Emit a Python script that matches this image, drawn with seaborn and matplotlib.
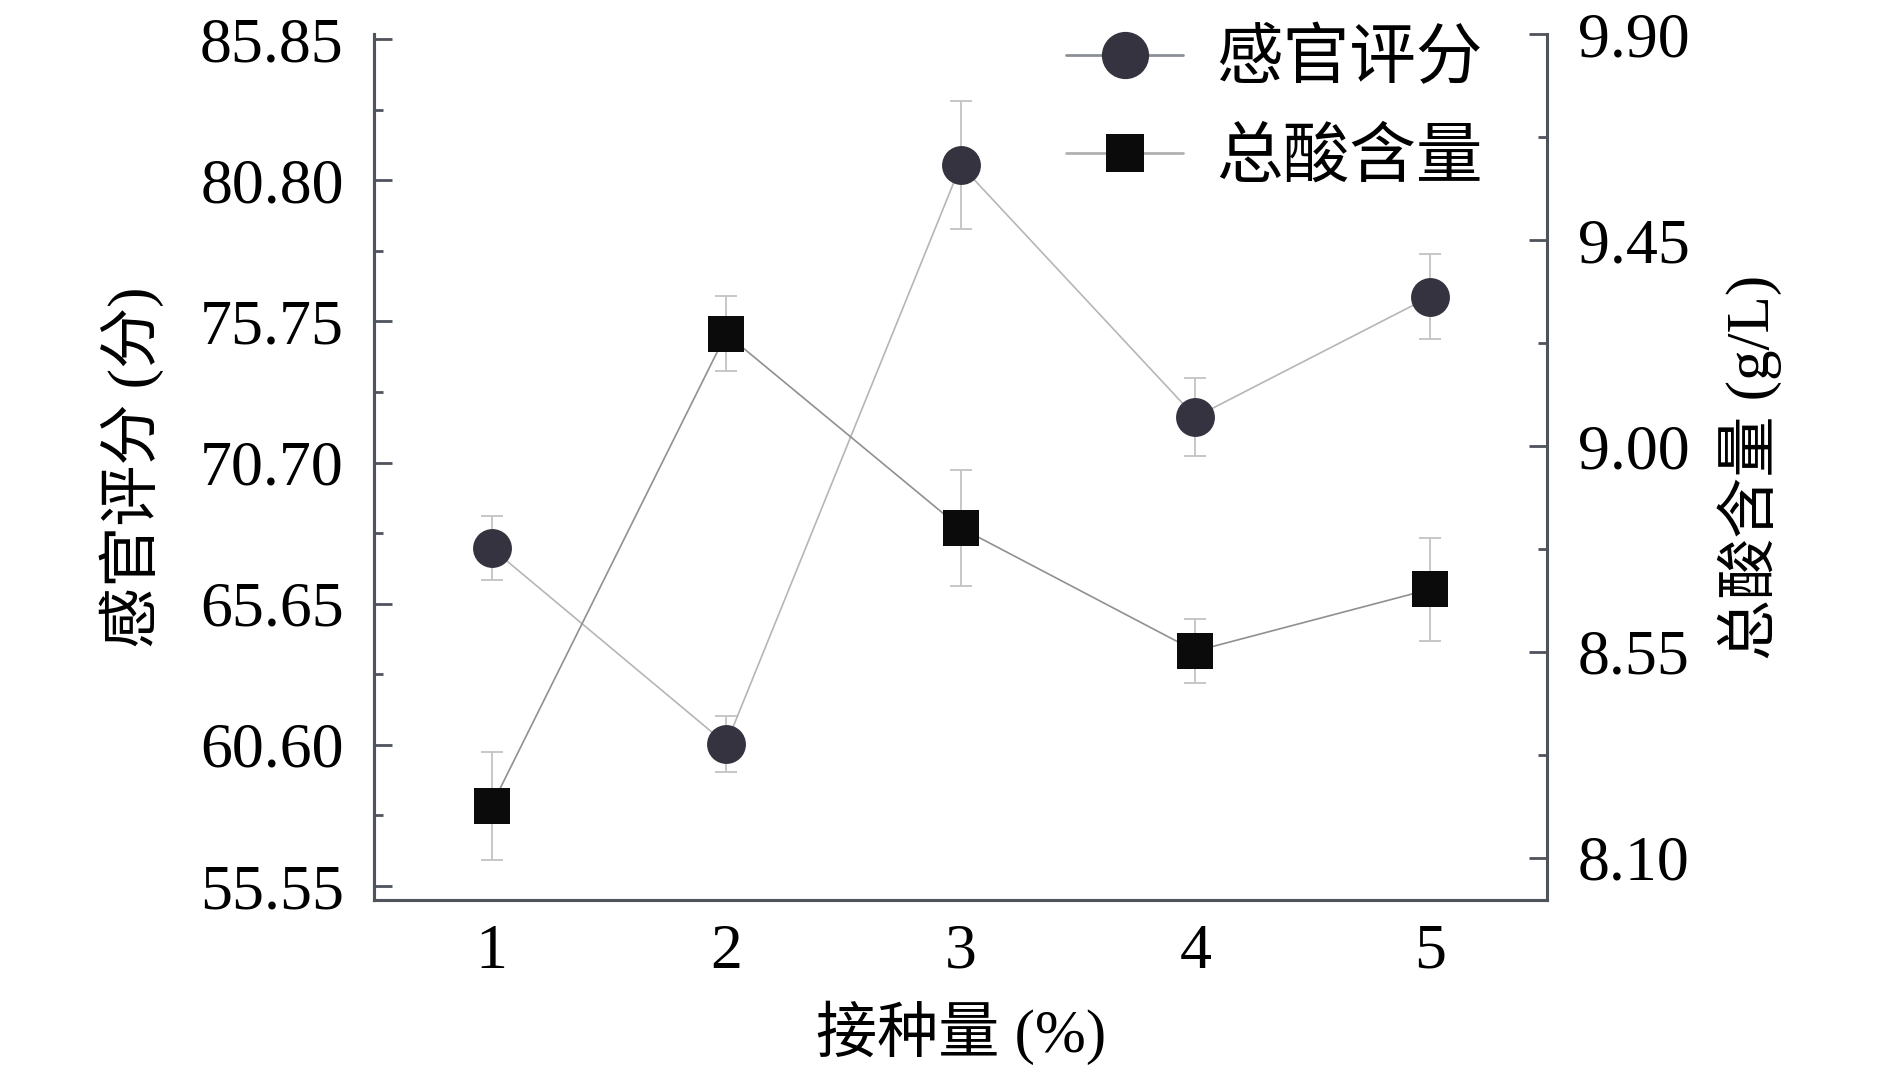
import numpy as np
import pandas as pd
import seaborn as sns
from matplotlib import pyplot as plt
from matplotlib.lines import Line2D
from matplotlib.ticker import FixedLocator, FormatStrFormatter

# dados
dose = [1, 2, 3, 4, 5]
sensorial = [67.64, 60.63, 81.34, 72.33, 76.64]
sensorial_err = [1.15, 1.00, 2.29, 1.41, 1.53]
acido = [8.214, 9.245, 8.821, 8.552, 8.687]
acido_err = [0.118, 0.082, 0.127, 0.070, 0.113]

ticks_esq = [55.55, 60.60, 65.65, 70.70, 75.75, 80.80, 85.85]
ticks_dir = [8.10, 8.55, 9.00, 9.45, 9.90]

df = pd.DataFrame({'dose': dose, 'sens': sensorial, 'acido': acido})

sns.set_style('white')
plt.rcParams['font.family'] = ['Liberation Serif', 'Noto Sans CJK SC']
plt.rcParams['axes.unicode_minus'] = False
plt.rcParams['text.color'] = 'black'
plt.rcParams['axes.labelcolor'] = 'black'
plt.rcParams['xtick.labelcolor'] = 'black'
plt.rcParams['ytick.labelcolor'] = 'black'

fig = plt.figure(figsize=(18.9, 10.75), dpi=100)
ax = fig.add_axes([0.198, 0.1628, 0.6207, 0.8054])
ax2 = ax.twinx()

cor_eixo = '#4e535c'
cor_circ = '#34333f'
cor_quad = '#0b0b0b'

# serie 1: avaliacao sensorial
ax.errorbar(dose, sensorial, yerr=sensorial_err, fmt='none', ecolor='#c2c4c4',
            elinewidth=1.3, capsize=8, capthick=1.3, zorder=1)
sns.lineplot(data=df, x='dose', y='sens', ax=ax, color='#b4b6b8', linewidth=1.2,
             marker='o', markersize=28, markerfacecolor=cor_circ,
             markeredgecolor=cor_circ, markeredgewidth=0, zorder=3)

# serie 2: acidez total
ax2.errorbar(dose, acido, yerr=acido_err, fmt='none', ecolor='#c2c4c4',
             elinewidth=1.3, capsize=8, capthick=1.3, zorder=1)
sns.lineplot(data=df, x='dose', y='acido', ax=ax2, color='#8e9092', linewidth=1.2,
             marker='s', markersize=26, markerfacecolor=cor_quad,
             markeredgecolor=cor_quad, markeredgewidth=0, zorder=3)

ax.set_xlim(0.5, 5.5)
ax.set_ylim(55.05, 86.03)
ax2.set_ylim(8.008, 9.90)

ax.xaxis.set_major_locator(FixedLocator(dose))
ax.xaxis.set_minor_locator(FixedLocator([1.5, 2.5, 3.5, 4.5]))
ax.yaxis.set_major_locator(FixedLocator(ticks_esq))
ax.yaxis.set_minor_locator(FixedLocator([t + 2.525 for t in ticks_esq[:-1]]))
ax.yaxis.set_major_formatter(FormatStrFormatter('%.2f'))
ax2.yaxis.set_major_locator(FixedLocator(ticks_dir))
ax2.yaxis.set_minor_locator(FixedLocator([t + 0.225 for t in ticks_dir[:-1]]))
ax2.yaxis.set_major_formatter(FormatStrFormatter('%.2f'))

for a in (ax, ax2):
    a.spines['top'].set_visible(False)
    for s in a.spines.values():
        s.set_color(cor_eixo)
        s.set_linewidth(2.2)
ax.spines['right'].set_visible(False)

ax.tick_params(axis='x', which='major', direction='in', length=12, width=1.8,
               color='#222222', labelsize=46, pad=17)
ax.tick_params(axis='x', which='minor', direction='in', length=6, width=1.8,
               color='#222222')
ax.tick_params(axis='y', which='major', direction='in', length=13, width=2,
               color=cor_eixo, labelsize=46, pad=22)
ax.tick_params(axis='y', which='minor', direction='in', length=6.5, width=2,
               color=cor_eixo)
ax2.tick_params(axis='y', which='major', direction='in', length=13, width=2,
                color=cor_eixo, labelsize=46, pad=22)
ax2.tick_params(axis='y', which='minor', direction='in', length=6.5, width=2,
                color=cor_eixo)

ax.set_xlabel('接种量 (%)', fontsize=44, labelpad=14)
ax.set_ylabel('感官评分 (分)', fontsize=44, labelpad=26)
ax2.set_ylabel('总酸含量 (g/L)', fontsize=44, labelpad=20)

# legenda
h1 = Line2D([], [], color='#8a9096', linewidth=2, marker='o', markersize=34,
            markerfacecolor=cor_circ, markeredgewidth=0)
h2 = Line2D([], [], color='#b0b2b0', linewidth=2, marker='s', markersize=28,
            markerfacecolor=cor_quad, markeredgewidth=0)
ax2.legend([h1, h2], ['感官评分', '总酸含量'], loc='upper right',
           bbox_to_anchor=(0.945, 1.005), frameon=False, fontsize=48,
           handlelength=1.75, handletextpad=0.5, labelspacing=0.55,
           borderaxespad=0, borderpad=0)

fig.savefig('out.png', dpi=100)
